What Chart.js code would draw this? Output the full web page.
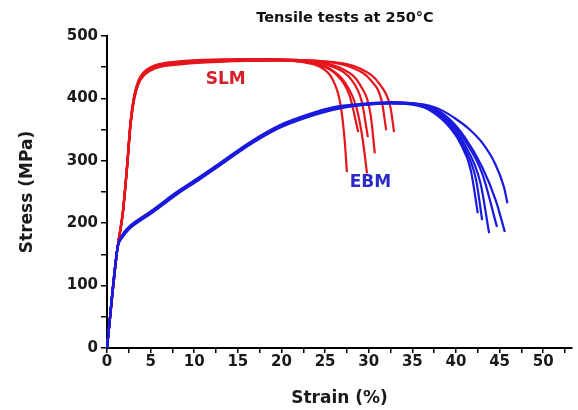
<!DOCTYPE html>
<html>
<head>
<meta charset="utf-8">
<script src="https://cdn.jsdelivr.net/npm/chart.js@4.4.1/dist/chart.umd.min.js"></script>
<style>
  html, body { margin: 0; padding: 0; background: #fff; }
  #wrap { width: 578px; height: 410px; }
</style>
</head>
<body>
<div id="wrap"><canvas id="myChart" width="578" height="410"></canvas></div>
<script>
// strain (%) , stress (MPa)
const slm1 = [[0,0],[1.2,160],[1.8,215],[2.3,290],[2.7,360],[3.1,400],[3.6,425],[4.3,440],[5.5,450],[8,456],[12,459],[16,461],[20,461],[22.5,458],[24.5,450],[25.8,432],[26.7,395],[27.2,340],[27.5,282]];
const slm2 = [[0,0],[1.2,160],[1.8,213],[2.3,288],[2.7,356],[3.1,397],[3.6,423],[4.3,438],[5.5,448],[8,454],[12,458],[16,460],[20,461],[23,458],[25.5,448],[27.3,425],[28.6,385],[29.3,335],[29.8,280]];
const slm3 = [[0,0],[1.2,160],[1.8,216],[2.3,292],[2.7,362],[3.1,402],[3.6,427],[4.3,442],[5.5,452],[8,458],[12,461],[16,463],[21,461],[24,455],[26.3,438],[27.8,405],[28.8,346]];
const slm4 = [[0,0],[1.2,160],[1.8,214],[2.3,289],[2.7,358],[3.1,399],[3.6,424],[4.3,439],[5.5,449],[8,455],[12,459],[18,461],[23,459],[26,450],[28,430],[29.2,395],[29.9,338]];
const slm5 = [[0,0],[1.2,160],[1.8,217],[2.3,294],[2.7,364],[3.1,404],[3.6,429],[4.3,443],[5.5,453],[8,459],[12,462],[18,463],[24,459],[27,447],[29,422],[30.2,375],[30.7,312]];
const slm6 = [[0,0],[1.2,160],[1.8,215],[2.3,291],[2.7,360],[3.1,401],[3.6,426],[4.3,441],[5.5,451],[8,457],[12,460],[18,462],[25,459],[28,450],[30.3,428],[31.5,395],[32,349]];
const slm7 = [[0,0],[1.2,160],[1.8,214],[2.3,290],[2.7,359],[3.1,400],[3.6,425],[4.3,440],[5.5,450],[8,456],[12,460],[18,462],[26,458],[29,448],[31.3,422],[32.5,385],[32.9,346]];

const ebm1 = [[0,0],[1.2,160],[1.7,178],[2.5,192],[3.5,203],[5,217],[8,248],[10.6,272],[13,295],[16.4,328],[19.8,355],[23,372],[26,384],[29,390],[32.5,393],[35,391],[37,381],[39,358],[40.5,328],[41.7,285],[42.5,216]];
const ebm2 = [[0,0],[1.2,160],[1.7,176],[2.5,190],[3.5,201],[5,215],[8,246],[10.6,270],[13,293],[16.4,326],[19.8,353],[23,370],[26,382],[29,389],[32.5,392],[35,390],[37,382],[39,361],[41,320],[42.3,270],[43,205]];
const ebm3 = [[0,0],[1.2,160],[1.7,180],[2.5,194],[3.5,205],[5,219],[8,250],[10.6,274],[13,297],[16.4,330],[19.8,357],[23,374],[26,386],[29,391],[32.5,394],[35,392],[37,384],[39,364],[41,326],[42.8,265],[43.8,184]];
const ebm4 = [[0,0],[1.2,160],[1.7,177],[2.5,191],[3.5,202],[5,216],[8,247],[10.6,271],[13,294],[16.4,327],[19.8,354],[23,371],[26,383],[29,389],[32.5,392],[35,391],[37,385],[39,367],[41,333],[43,280],[44.7,194]];
const ebm5 = [[0,0],[1.2,160],[1.7,179],[2.5,193],[3.5,204],[5,218],[8,249],[10.6,273],[13,296],[16.4,329],[19.8,356],[23,373],[26,385],[29,390],[32.5,393],[35,392],[37,386],[39,370],[41,338],[43,290],[44.6,235],[45.6,186]];
const ebm6 = [[0,0],[1.2,160],[1.7,178],[2.5,192],[3.5,203],[5,217],[8,248],[10.6,272],[13,295],[16.4,328],[19.8,355],[23,372],[26,384],[29,390],[32.5,393],[35,392],[37,388],[38.5,380],[40,367],[41.5,351],[43,329],[44.5,295],[45.5,258],[45.9,232]];

const slmCurves = [slm1, slm2, slm3, slm4, slm5, slm6, slm7];
const ebmCurves = [ebm1, ebm2, ebm3, ebm4, ebm5, ebm6];

const xTicks = [0, 5, 10, 15, 20, 25, 30, 35, 40, 45, 50];
const yTicks = [0, 100, 200, 300, 400, 500];

const RED = '#e6151c';
const BLUE = '#1a1ade';

function toPoints(arr) {
  return arr.map(p => ({ x: p[0], y: p[1] }));
}

const datasets = [];
ebmCurves.forEach(c => datasets.push({ data: toPoints(c), borderColor: BLUE }));
slmCurves.forEach(c => datasets.push({ data: toPoints(c), borderColor: RED }));

const textPlugin = {
  id: 'texts',
  afterDraw(chart) {
    const ctx = chart.ctx;
    const xs = chart.scales.x, ys = chart.scales.y;
    ctx.save();
    ctx.textAlign = 'center';
    ctx.textBaseline = 'middle';
    ctx.font = 'bold 14.5px "DejaVu Sans"';
    ctx.fillStyle = '#111';
    ctx.fillText('Tensile tests at 250°C', 345, 18);
    ctx.font = 'bold 17px "DejaVu Sans"';
    ctx.fillStyle = '#d4202a';
    ctx.fillText('SLM', xs.getPixelForValue(13.6), ys.getPixelForValue(430));
    ctx.fillStyle = '#2a2ac8';
    ctx.fillText('EBM', xs.getPixelForValue(30.2), ys.getPixelForValue(265));
    ctx.restore();
  }
};

const ctx = document.getElementById('myChart');
new Chart(ctx, {
  type: 'scatter',
  data: { datasets: datasets },
  options: {
    responsive: false,
    animation: false,
    layout: { padding: { top: 36, right: 6, left: 0, bottom: 0 } },
    showLine: true,
    elements: {
      point: { radius: 0 },
      line: { borderWidth: 2.2, cubicInterpolationMode: 'monotone', fill: false }
    },
    clip: false,
    plugins: { legend: { display: false }, tooltip: { enabled: false } },
    scales: {
      x: {
        type: 'linear',
        min: 0,
        max: 53.3,
        afterFit(scale) { scale.height = 62; },
        afterBuildTicks(scale) {
          const t = [];
          for (let v = 0; v <= 52.5; v += 2.5) t.push({ value: v });
          scale.ticks = t;
        },
        border: { color: '#000', width: 2 },
        grid: { drawOnChartArea: false, color: '#000', tickLength: 5, lineWidth: 1.5 },
        ticks: {
          padding: 0,
          maxRotation: 0,
          minRotation: 0,
          autoSkip: false,
          color: '#1a1a1a',
          font: { family: 'DejaVu Sans', weight: 'bold', size: 15 },
          callback: v => xTicks.includes(v) ? String(v) : ''
        },
        title: {
          display: true,
          text: 'Strain (%)',
          color: '#1a1a1a',
          font: { family: 'DejaVu Sans', weight: 'bold', size: 17 },
          padding: { top: 0, bottom: 1 }
        }
      },
      y: {
        type: 'linear',
        min: 0,
        max: 500,
        afterFit(scale) { scale.width = 107; },
        afterBuildTicks(scale) {
          const t = [];
          for (let v = 0; v <= 500; v += 50) t.push({ value: v });
          scale.ticks = t;
        },
        border: { color: '#000', width: 2 },
        grid: { drawOnChartArea: false, color: '#000', tickLength: 6, lineWidth: 1.5 },
        ticks: {
          padding: 3,
          autoSkip: false,
          color: '#1a1a1a',
          font: { family: 'DejaVu Sans', weight: 'bold', size: 15 },
          callback: v => yTicks.includes(v) ? String(v) : ''
        },
        title: {
          display: true,
          text: 'Stress (MPa)',
          color: '#1a1a1a',
          font: { family: 'DejaVu Sans', weight: 'bold', size: 17 },
          padding: { top: 17, bottom: 0 }
        }
      }
    }
  },
  plugins: [textPlugin]
});
</script>
</body>
</html>
